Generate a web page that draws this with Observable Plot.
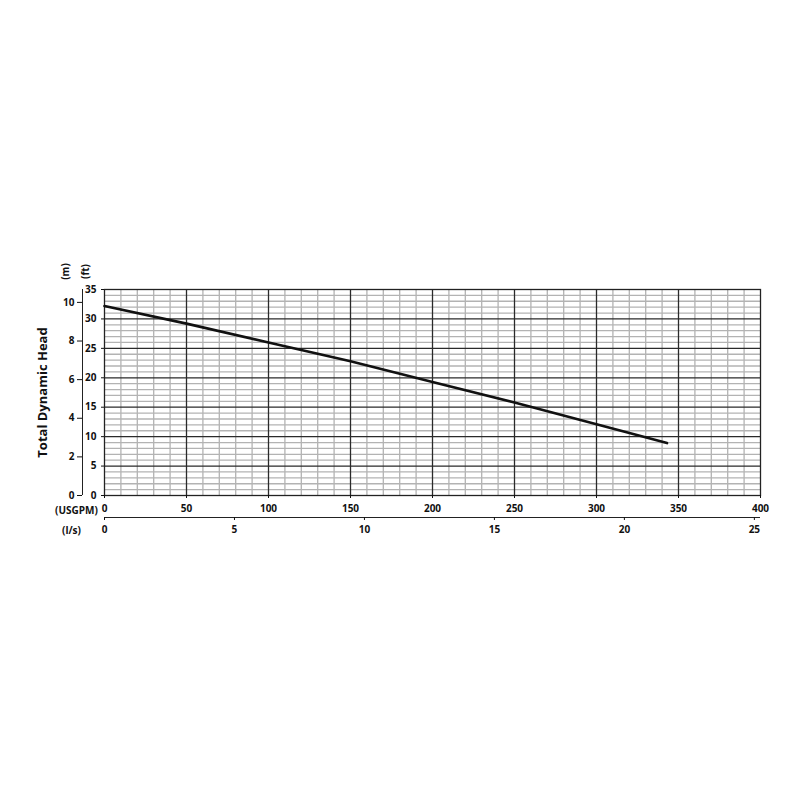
<!DOCTYPE html>
<html>
<head>
<meta charset="utf-8">
<script src="https://cdn.jsdelivr.net/npm/d3@7"></script>
<script src="https://cdn.jsdelivr.net/npm/@observablehq/plot@0.6"></script>
<style>
  html, body { margin: 0; padding: 0; background: #fff; }
</style>
</head>
<body>
<div id="chart"></div>
<script>
// Pump curve: flow (USGPM) vs total dynamic head (ft)
const flowUSGPM = [0, 50, 100, 150, 200, 250, 300, 343];
const headFt    = [32.2, 29.2, 26.0, 22.8, 19.3, 15.8, 12.1, 8.9];

// Tick labels
const usgpmTicks = [0, 50, 100, 150, 200, 250, 300, 350, 400];
const lsTicks    = [0, 5, 10, 15, 20, 25];
const ftTicks    = [0, 5, 10, 15, 20, 25, 30, 35];
const mTicks     = [0, 2, 4, 6, 8, 10];

const FT_PER_M = 3.28084;
const USGPM_PER_LS = 15.8503;

const curve = flowUSGPM.map((q, i) => ({q, h: headFt[i]}));

const minorX = d3.range(0, 401, 10).filter(v => v % 50 !== 0);
const majorX = d3.range(50, 400, 50);
const minorY = d3.range(0, 36, 1).filter(v => v % 5 !== 0);
const majorY = d3.range(5, 35, 5);

const font = "'Open Sans', 'Liberation Sans', sans-serif";
const lbl = {fontSize: 10, fontWeight: "bold", textAnchor: "middle", lineAnchor: "middle"};

const chart = Plot.plot({
  width: 800,
  height: 800,
  marginLeft: 104,
  marginRight: 40,
  marginTop: 289,
  marginBottom: 305,
  style: {fontFamily: font, fontSize: "10px", fontWeight: "bold", color: "#111", background: "#fff"},
  x: {domain: [0, 400]},
  y: {domain: [0, 35]},
  marks: [
    Plot.ruleX(minorX, {stroke: "#b3b3b3", strokeWidth: 1.3}),
    Plot.ruleY(minorY, {stroke: "#b3b3b3", strokeWidth: 1.3}),
    Plot.ruleX(majorX, {stroke: "#2a2a2a", strokeWidth: 1.3}),
    Plot.ruleY(majorY, {stroke: "#2a2a2a", strokeWidth: 1.3}),
    Plot.frame({stroke: "#222", strokeWidth: 1.3}),
    Plot.line(curve, {x: "q", y: "h", stroke: "#111", strokeWidth: 2.6}),
    // ft axis (primary, at plot edge)
    Plot.axisY({ticks: ftTicks, tickSize: 3, tickPadding: 5, tickFormat: d => String(d),
      label: "Total Dynamic Head", labelAnchor: "center", labelArrow: "none", labelOffset: 67, fontSize: 10}),
    // m axis (offset to the left)
    Plot.ruleX([0], {y1: 0, y2: 35, dx: -22, stroke: "#222", strokeWidth: 1}),
    Plot.axisY({ticks: mTicks.map(m => m * FT_PER_M), tickSize: 5, tickPadding: 3,
      tickFormat: d => String(Math.round(d / FT_PER_M)), dx: -22, label: null}),
    // USGPM axis
    Plot.axisX({ticks: usgpmTicks, tickSize: 3, tickPadding: 6, tickFormat: d => String(d), label: null}),
    // l/s axis (offset below)
    Plot.ruleY([0], {dy: 22, stroke: "#222", strokeWidth: 1}),
    Plot.axisX({ticks: lsTicks.map(l => l * USGPM_PER_LS), tickSize: 3, tickPadding: 5,
      tickFormat: d => String(Math.round(d / USGPM_PER_LS)), dy: 22, label: null}),
    // unit labels
    Plot.text(["(m)"], {...lbl, frameAnchor: "top-left", dx: -39, dy: -18, rotate: -90}),
    Plot.text(["(ft)"], {...lbl, frameAnchor: "top-left", dx: -19, dy: -18, rotate: -90}),
    Plot.text(["(USGPM)"], {...lbl, frameAnchor: "bottom-left", dx: -28, dy: 15}),
    Plot.text(["(l/s)"], {...lbl, frameAnchor: "bottom-left", dx: -33, dy: 35})
  ]
});

chart.querySelectorAll("text").forEach(t => {
  if (t.textContent === "Total Dynamic Head") {
    t.style.fontSize = "13px";
  }
});

document.getElementById("chart").appendChild(chart);
</script>
</body>
</html>
